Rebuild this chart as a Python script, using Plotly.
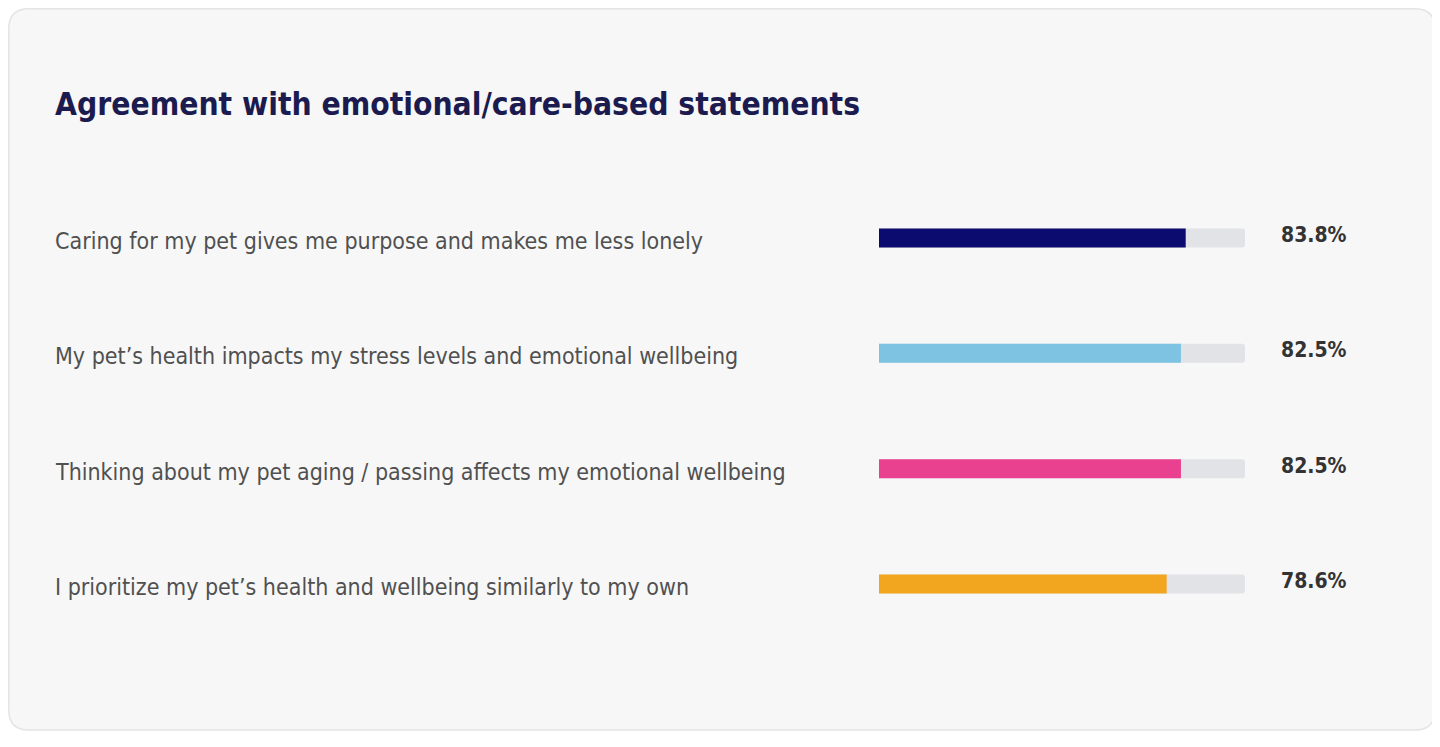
import plotly.graph_objects as go

# page body has an 8px margin, so the figure sits at (8, 8) in the window
OX, OY = 8, 8
W, H = 1432, 731

statements = [
    "Caring for my pet gives me purpose and makes me less lonely",
    "My pet\u2019s health impacts my stress levels and emotional wellbeing",
    "Thinking about my pet aging / passing affects my emotional wellbeing",
    "I prioritize my pet\u2019s health and wellbeing similarly to my own",
]
agree_pct = [83.8, 82.5, 82.5, 78.6]
bar_colors = ["#0b0b6f", "#7ec3e2", "#e9408f", "#f2a51f"]
track_max = [100, 100, 100, 100]

FONT = "DejaVu Sans Condensed, DejaVu Sans, sans-serif"


def px(x):
    return (x - OX) / W


def py(y):
    return 1 - (y - OY) / H


fig = go.Figure()

# grey track behind each bar
fig.add_trace(go.Bar(
    y=statements, x=track_max, orientation="h",
    marker=dict(color="#e2e3e6", cornerradius=3, line=dict(width=0)),
    width=0.165, hoverinfo="skip", showlegend=False,
))
fig.add_trace(go.Bar(
    y=statements, x=agree_pct, orientation="h",
    marker=dict(color=bar_colors, cornerradius=3, line=dict(width=0)),
    width=0.165, showlegend=False,
    hovertemplate="%{y}: %{x:.1f}%<extra></extra>",
))

annotations = []
for s, v in zip(statements, agree_pct):
    annotations.append(dict(
        x=px(53), xref="paper", y=s, yref="y", text=s, showarrow=False,
        xanchor="left", yanchor="middle", yshift=-3,
        font=dict(family=FONT, size=23, color="#505050"),
    ))
    annotations.append(dict(
        x=px(1349), xref="paper", y=s, yref="y", text=f"<b>{v:.1f}%</b>",
        showarrow=False, xanchor="right", yanchor="middle", yshift=3,
        font=dict(family=FONT, size=21, color="#333333"),
    ))

annotations.append(dict(
    x=px(53), xref="paper", y=py(104), yref="paper",
    text="<b>Agreement with emotional/care-based statements</b>",
    showarrow=False, xanchor="left", yanchor="middle",
    font=dict(family=FONT, size=31.5, color="#1b1b4f"),
))

# rounded card outline
x0, x1, y0, y1 = px(8.8), px(1435), py(730), py(8.8)
rx, ry = 20 / W, 20 / H
card = (f"M {x0 + rx},{y1} L {x1 - rx},{y1} Q {x1},{y1} {x1},{y1 - ry} "
        f"L {x1},{y0 + ry} Q {x1},{y0} {x1 - rx},{y0} L {x0 + rx},{y0} "
        f"Q {x0},{y0} {x0},{y0 + ry} L {x0},{y1 - ry} Q {x0},{y1} {x0 + rx},{y1} Z")

fig.update_layout(
    width=W, height=H,
    margin=dict(l=0, r=0, t=0, b=0),
    paper_bgcolor="white", plot_bgcolor="rgba(0,0,0,0)",
    barmode="overlay",
    shapes=[dict(type="path", path=card, xref="paper", yref="paper",
                 fillcolor="#f7f7f8", line=dict(color="#e4e4e6", width=1.5),
                 layer="below")],
    xaxis=dict(domain=[px(879), px(1245)], range=[0, 100], visible=False,
               fixedrange=True),
    yaxis=dict(domain=[py(641.7), py(180.3)], autorange="reversed",
               visible=False, fixedrange=True),
    annotations=annotations,
)

fig.write_html("out.html")
